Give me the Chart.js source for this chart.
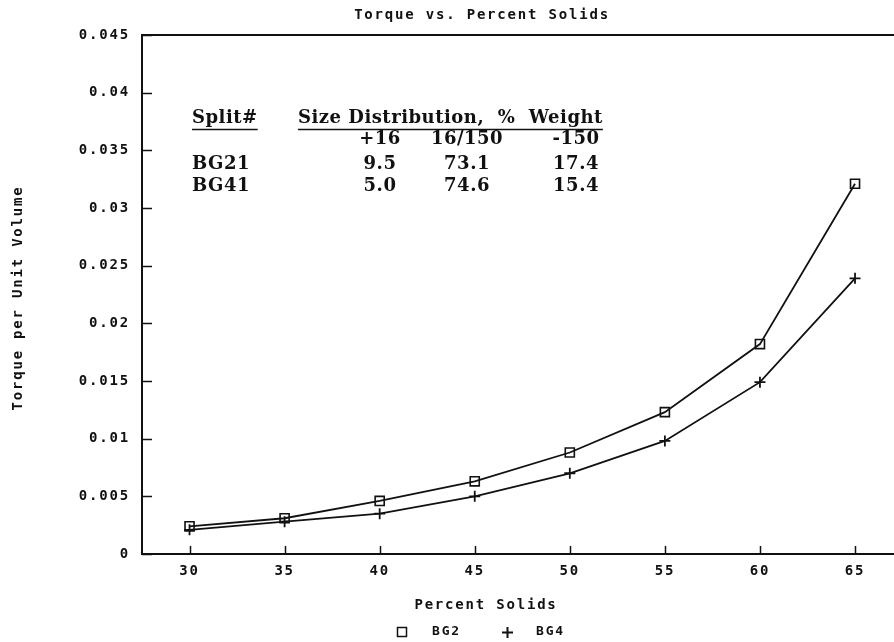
<!DOCTYPE html>
<html>
<head>
<meta charset="utf-8">
<title>Torque vs. Percent Solids</title>
<script src="https://cdn.jsdelivr.net/npm/chart.js@4.4.1/dist/chart.umd.min.js"></script>
<style>
  html, body { margin: 0; padding: 0; background: #ffffff; overflow: hidden; }
  #wrap { width: 894px; height: 642px; }
</style>
</head>
<body>
<div id="wrap"><canvas id="torqueChart" width="894" height="642"></canvas></div>
<script>
// Percent solids (x) and torque per unit volume (y) for the two splits
const percentSolids = [30, 35, 40, 45, 50, 55, 60, 65];
const bg2Torque = [0.0024, 0.0031, 0.0046, 0.0063, 0.0088, 0.0123, 0.0182, 0.0321];
const bg4Torque = [0.0021, 0.0028, 0.0035, 0.0050, 0.0070, 0.0098, 0.0149, 0.0239];

// Size distribution table (% weight)
const splitIds = ['BG21', 'BG41'];
const sizeFractions = ['+16', '16/150', '-150'];
const bg21Distribution = [9.5, 73.1, 17.4];
const bg41Distribution = [5.0, 74.6, 15.4];

const MONO = 'DejaVu Sans Mono';
const SERIF = 'DejaVu Serif';
const INK = '#111111';

function toPoints(values) {
  return percentSolids.map((x, i) => ({ x: x, y: values[i] }));
}

function monoText(ctx, text, x, y, size, align) {
  ctx.font = 'bold ' + size + 'px "' + MONO + '"';
  ctx.letterSpacing = '1.8px';
  ctx.fillStyle = INK;
  ctx.textAlign = align || 'center';
  ctx.textBaseline = 'middle';
  ctx.fillText(text, x, y);
}

// Axes frame, inward tick marks, titles, legend and the size table
const decorations = {
  id: 'decorations',
  beforeUpdate(chart) { chart.ctx.letterSpacing = '1.8px'; },
  beforeDraw(chart) { chart.ctx.letterSpacing = '1.8px'; },
  afterDraw(chart) {
    const ctx = chart.ctx;
    const area = chart.chartArea;
    const xs = chart.scales.x;
    const ys = chart.scales.y;
    ctx.save();
    ctx.strokeStyle = INK;

    // top frame line
    ctx.lineWidth = 2;
    ctx.beginPath();
    ctx.moveTo(area.left, area.top);
    ctx.lineTo(area.right, area.top);
    ctx.stroke();

    // inward ticks
    ctx.lineWidth = 1.5;
    ctx.beginPath();
    ys.ticks.forEach(t => {
      const py = Math.round(ys.getPixelForValue(t.value)) + 0.5;
      ctx.moveTo(area.left, py);
      ctx.lineTo(area.left + 10, py);
    });
    xs.ticks.forEach(t => {
      const px = Math.round(xs.getPixelForValue(t.value)) + 0.5;
      ctx.moveTo(px, area.bottom);
      ctx.lineTo(px, area.bottom - 8);
    });
    ctx.stroke();

    // titles
    monoText(ctx, 'Torque vs. Percent Solids', 482, 15, 14);
    monoText(ctx, 'Percent Solids', 486, 605, 14);
    ctx.save();
    ctx.translate(18, 298);
    ctx.rotate(-Math.PI / 2);
    monoText(ctx, 'Torque per Unit Volume', 0, 0, 14);
    ctx.restore();

    // legend
    const ds = chart.data.datasets;
    ctx.lineWidth = 1.5;
    ctx.strokeRect(397.5, 627.5, 9, 9);
    monoText(ctx, ds[0].label, 432, 632, 13, 'left');
    ctx.beginPath();
    ctx.moveTo(502, 632.5); ctx.lineTo(513, 632.5);
    ctx.moveTo(507.5, 627); ctx.lineTo(507.5, 638);
    ctx.lineWidth = 2;
    ctx.stroke();
    monoText(ctx, ds[1].label, 536, 632, 13, 'left');

    // size distribution table
    ctx.letterSpacing = '0.5px';
    ctx.font = 'bold 18px "' + SERIF + '"';
    ctx.fillStyle = INK;
    ctx.textBaseline = 'alphabetic';
    ctx.textAlign = 'left';
    const head1 = 'Split#';
    const head2 = 'Size Distribution,  %  Weight';
    ctx.fillText(head1, 192, 123);
    ctx.fillText(head2, 298, 123);
    ctx.lineWidth = 1.3;
    ctx.beginPath();
    ctx.moveTo(192, 129.5); ctx.lineTo(192 + ctx.measureText(head1).width, 129.5);
    ctx.moveTo(298, 129.5); ctx.lineTo(298 + ctx.measureText(head2).width, 129.5);
    ctx.stroke();

    const colX = [380, 467, 576];
    ctx.textAlign = 'center';
    sizeFractions.forEach((s, i) => ctx.fillText(s, colX[i], 144));
    const rows = [bg21Distribution, bg41Distribution];
    const rowY = [169, 191];
    rows.forEach((row, r) => {
      ctx.textAlign = 'left';
      ctx.fillText(splitIds[r], 192, rowY[r]);
      ctx.textAlign = 'center';
      row.forEach((v, i) => ctx.fillText(v.toFixed(1), colX[i], rowY[r]));
    });
    ctx.restore();
  }
};

const tickFont = { family: MONO, size: 14, weight: 'bold' };

new Chart(document.getElementById('torqueChart'), {
  type: 'line',
  data: {
    datasets: [
      {
        label: 'BG2',
        data: toPoints(bg2Torque),
        borderColor: INK,
        borderWidth: 1.8,
        pointStyle: 'rect',
        pointRadius: 6.4,
        pointBorderWidth: 1.6,
        pointBorderColor: INK,
        pointBackgroundColor: 'rgba(0,0,0,0)',
        tension: 0,
        fill: false
      },
      {
        label: 'BG4',
        data: toPoints(bg4Torque),
        borderColor: INK,
        borderWidth: 1.8,
        pointStyle: 'cross',
        pointRadius: 5.5,
        pointBorderWidth: 1.8,
        pointBorderColor: INK,
        pointBackgroundColor: 'rgba(0,0,0,0)',
        tension: 0,
        fill: false
      }
    ]
  },
  options: {
    responsive: false,
    animation: false,
    layout: { autoPadding: false, padding: { top: 35, left: 0, right: 0, bottom: 0 } },
    plugins: {
      legend: { display: false },
      title: { display: false },
      tooltip: { enabled: false }
    },
    scales: {
      x: {
        type: 'linear',
        min: 27.5,
        max: 67.05,
        afterBuildTicks(scale) {
          scale.ticks = percentSolids.map(v => ({ value: v }));
        },
        afterFit(scale) {
          scale.height = 88;
          scale.paddingLeft = 0;
          scale.paddingRight = 0;
        },
        grid: { display: false, drawTicks: false },
        border: { display: true, color: INK, width: 2 },
        ticks: {
          padding: 9,
          color: INK,
          font: tickFont,
          maxRotation: 0,
          callback: v => String(v)
        }
      },
      y: {
        type: 'linear',
        min: 0,
        max: 0.045,
        afterFit(scale) {
          scale.width = 142;
          scale.paddingTop = 0;
          scale.paddingBottom = 0;
        },
        grid: { display: false, drawTicks: false },
        border: { display: true, color: INK, width: 2 },
        ticks: {
          stepSize: 0.005,
          padding: 12,
          color: INK,
          font: tickFont,
          callback: v => String(Number(v.toFixed(3)))
        }
      }
    }
  },
  plugins: [decorations]
});
</script>
</body>
</html>
